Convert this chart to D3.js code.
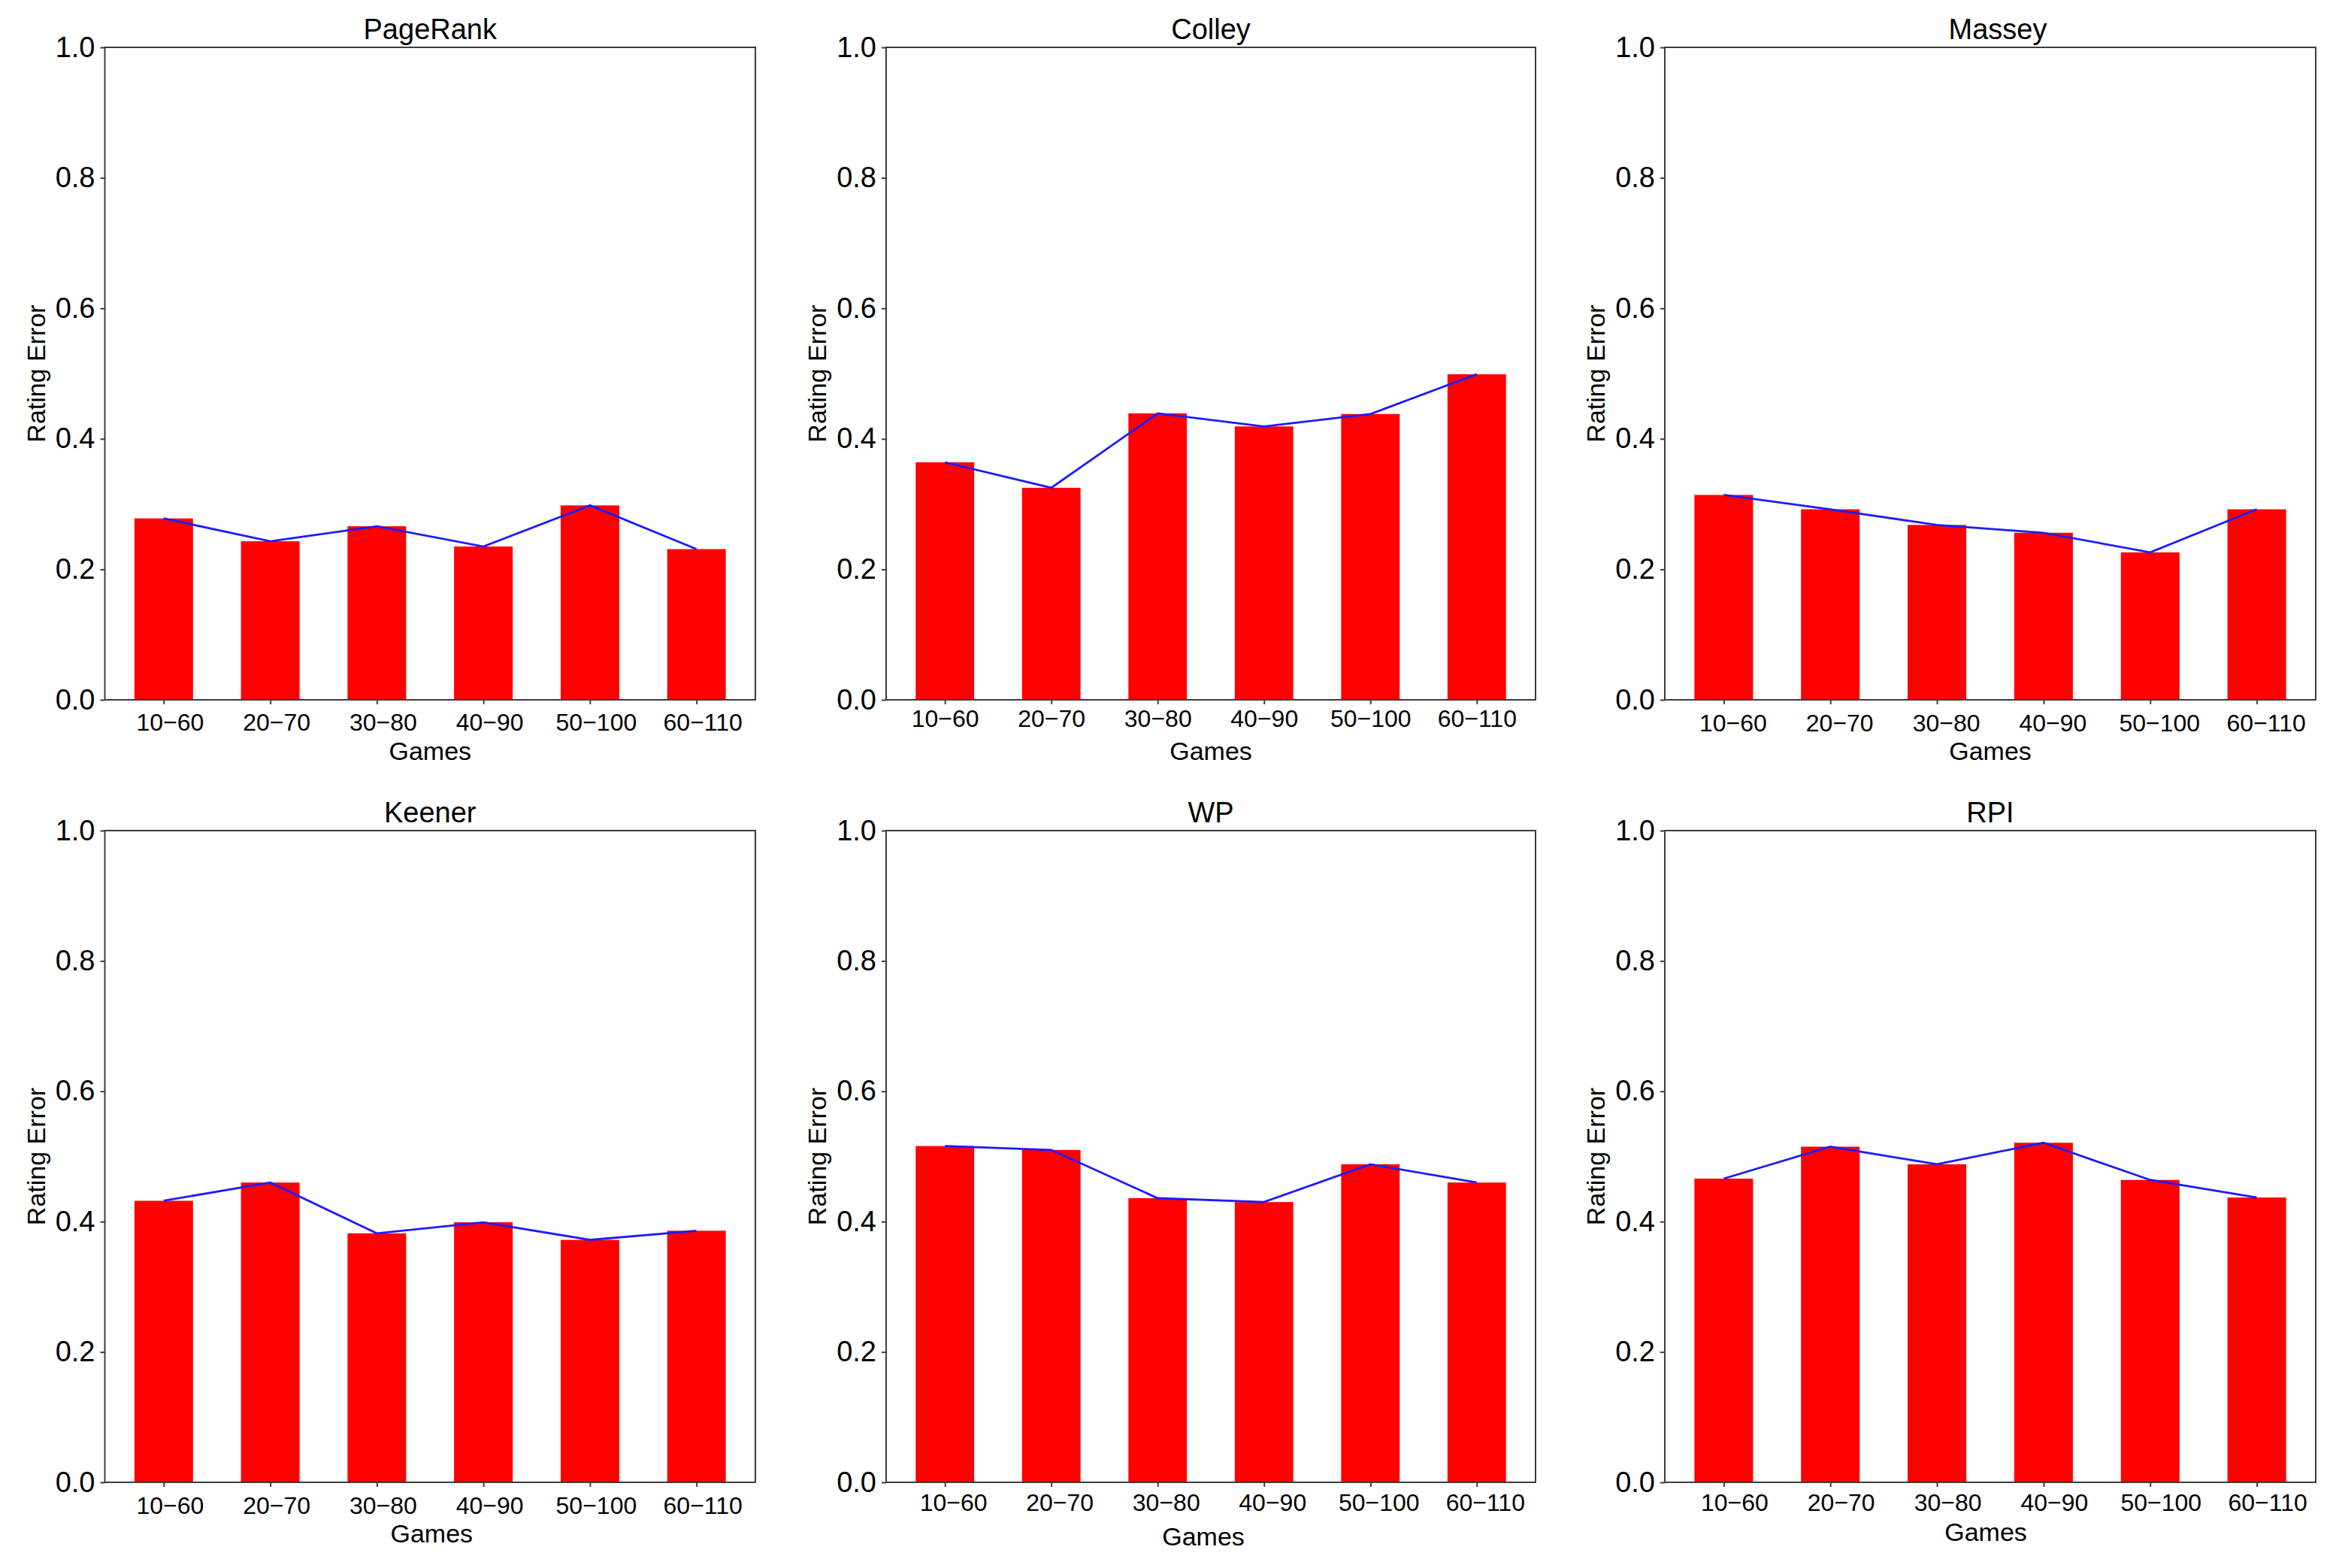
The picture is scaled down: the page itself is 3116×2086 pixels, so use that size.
<!DOCTYPE html>
<html>
<head>
<meta charset="utf-8">
<script src="https://cdn.jsdelivr.net/npm/d3@7"></script>
<style>
  body { margin: 0; background: #fff; }
  svg { display: block; font-family: "Liberation Sans", Arial, sans-serif; }
</style>
</head>
<body>
<div class="chart"></div>
<script>
// data
var categories = ["10\u221260", "20\u221270", "30\u221280", "40\u221290", "50\u2212100", "60\u2212110"];
var methods = ["PageRank", "Colley", "Massey", "Keener", "WP", "RPI"];
var pageRank = [0.278, 0.243, 0.266, 0.235, 0.298, 0.231];
var colley   = [0.364, 0.325, 0.439, 0.419, 0.438, 0.499];
var massey   = [0.314, 0.292, 0.268, 0.256, 0.226, 0.292];
var keener   = [0.432, 0.460, 0.382, 0.399, 0.372, 0.386];
var wp       = [0.516, 0.510, 0.436, 0.430, 0.488, 0.460];
var rpi      = [0.466, 0.515, 0.488, 0.521, 0.464, 0.437];
var yTicks   = [0, 0.2, 0.4, 0.6, 0.8, 1.0];
var series = [pageRank, colley, massey, keener, wp, rpi];

// layout (panels are slightly different, it was pasted together)
var colLeft = [139.5, 1179, 2215];
var colWidth = [865.5, 864, 866];
var rowTop = [63, 1105];
var rowHeight = [868, 867];
var tickDx = [8, 0, 12, 8, 11, 14];
var tickBase = [41, 36, 42, 42, 38, 38];
var gamesBase = [80, 80, 80, 80, 84, 78];
var gamesDx = [0, 0, 0, 2, -10, -6];
var titleDx = [0, 0, 10, 0, 0, 0];

var svg = d3.select("div.chart").append("svg")
    .attr("width", 3116)
    .attr("height", 2086);

svg.append("rect").attr("width", 3116).attr("height", 2086).attr("fill", "#fff");

methods.forEach(function (name, k) {
    var c = k % 3, r = Math.floor(k / 3);
    var w = colWidth[c], h = rowHeight[r];
    var vals = series[k];

    var g = svg.append("g").attr("transform", "translate(" + colLeft[c] + "," + rowTop[r] + ")");

    var x = d3.scaleLinear().domain([-0.5525, 5.5525]).range([0, w]);
    var y = d3.scaleLinear().domain([0, 1]).range([h, 0]);
    var bw = x(0.55) - x(0);

    g.selectAll("rect.bar").data(vals).enter().append("rect")
        .attr("class", "bar")
        .attr("x", function (d, i) { return x(i) - bw / 2; })
        .attr("y", function (d) { return y(d); })
        .attr("width", bw)
        .attr("height", function (d) { return h - y(d); })
        .attr("fill", "#ff0000");

    var line = d3.line()
        .x(function (d, i) { return x(i); })
        .y(function (d) { return y(d); });

    g.append("path")
        .datum(vals)
        .attr("d", line)
        .attr("fill", "none")
        .attr("stroke", "#1c1cff")
        .attr("stroke-width", 2.8);

    // frame
    g.append("rect")
        .attr("width", w).attr("height", h)
        .attr("fill", "none")
        .attr("stroke", "#3c3c3c")
        .attr("stroke-width", 2);

    var yAxis = g.append("g")
        .call(d3.axisLeft(y).tickValues(yTicks).tickFormat(d3.format(".1f")).tickSize(6).tickPadding(7));
    yAxis.select(".domain").remove();
    yAxis.selectAll("line").attr("stroke", "#3c3c3c").attr("stroke-width", 2);
    yAxis.selectAll("text").attr("font-size", 38).attr("fill", "#000").attr("font-family", null);

    var xAxis = g.append("g")
        .attr("transform", "translate(0," + h + ")")
        .call(d3.axisBottom(x).tickValues(d3.range(categories.length))
            .tickFormat(function (i) { return categories[i]; }).tickSize(6));
    xAxis.select(".domain").remove();
    xAxis.selectAll("line").attr("stroke", "#3c3c3c").attr("stroke-width", 2);
    xAxis.selectAll("text")
        .attr("font-size", 32).attr("fill", "#000").attr("font-family", null)
        .attr("dy", null)
        .attr("y", tickBase[k])
        .attr("x", tickDx[k]);

    g.append("text")
        .attr("x", w / 2 + titleDx[k])
        .attr("y", -11)
        .attr("text-anchor", "middle")
        .attr("font-size", 38)
        .text(name);

    g.append("text")
        .attr("x", w / 2 + gamesDx[k])
        .attr("y", h + gamesBase[k])
        .attr("text-anchor", "middle")
        .attr("font-size", 34)
        .text("Games");

    g.append("text")
        .attr("transform", "translate(-80," + (h / 2) + ") rotate(-90)")
        .attr("text-anchor", "middle")
        .attr("font-size", 34)
        .text("Rating Error");
});
</script>
</body>
</html>
